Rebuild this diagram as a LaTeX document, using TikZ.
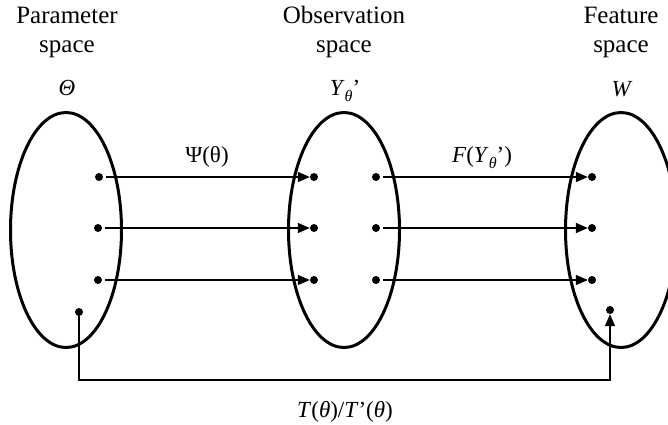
\documentclass[tikz,border=0pt]{standalone}
\usepackage{fontspec}
\setmainfont{Liberation Serif}
\usetikzlibrary{arrows.meta,shapes.geometric}
\newcommand{\subth}{\raisebox{-6pt}{\fontsize{16}{16}\selectfont\textit{θ}}}
\begin{document}
\begin{tikzpicture}[x=1pt,y=-1pt,
  setoval/.style={draw,line width=3pt,ellipse,minimum width=111pt,minimum height=235pt,inner sep=0pt},
  pt/.style={circle,fill,inner sep=0pt,minimum size=8pt},
  map/.style={line width=1.6pt,-{Triangle[length=12pt,width=10pt]},shorten <=3pt},
  title/.style={font=\fontsize{25}{30}\selectfont,anchor=base,inner sep=0pt},
  sym/.style={font=\fontsize{23}{26}\selectfont,anchor=base,inner sep=0pt},
]
\useasboundingbox (0,0) rectangle (668,424);
\clip (0,0) rectangle (668,424);
% titles
\node[title] (t1a) at (67,23) {Parameter};
\node[title] (t1b) at (67,52) {space};
\node[title] (t2a) at (344,23) {Observation};
\node[title] (t2b) at (344,52) {space};
\node[title] (t3a) at (621,23) {Feature};
\node[title] (t3b) at (621,52) {space};
\node[sym] (s1) at (67,95) {\textit{Θ}};
\node[sym] (s2) at (345,95) {\textit{Y}\subth’};
\node[sym] (s3) at (622,96) {\textit{W}};
% ellipses
\node[setoval] (e1) at (66,230) {};
\node[setoval] (e2) at (344,230) {};
\node[setoval] (e3) at (621,230) {};
% dots
\node[pt] (l1) at (99,177) {};
\node[pt] (l2) at (98,228) {};
\node[pt] (l3) at (98,280) {};
\node[pt] (lb) at (79,312) {};
\node[pt] (ma1) at (314,177) {};
\node[pt] (ma2) at (314,228) {};
\node[pt] (ma3) at (314,280) {};
\node[pt] (mb1) at (376,177) {};
\node[pt] (mb2) at (376,228) {};
\node[pt] (mb3) at (376,280) {};
\node[pt] (r1) at (592,177) {};
\node[pt] (r2) at (592,228) {};
\node[pt] (r3) at (592,280) {};
\node[pt] (rb) at (610,310) {};
% arrows
\draw[map] (l1) -- (ma1);
\draw[map] (l2) -- (ma2);
\draw[map] (l3) -- (ma3);
\draw[map] (mb1) -- (r1);
\draw[map] (mb2) -- (r2);
\draw[map] (mb3) -- (r3);
\coordinate (turn) at (79,380);
\draw[map,shorten <=0pt] (lb) -- (turn) -| (rb);
% labels
\node[sym] (psi) at (207,162) {Ψ(θ)};
\node[sym] (fy) at (482,162) {\textit{F}(\textit{Y}\subth’)};
\node[sym] (tt) at (345,417) {\textit{T}(\textit{θ})/\textit{T}’(\textit{θ})};
\end{tikzpicture}
\end{document}
